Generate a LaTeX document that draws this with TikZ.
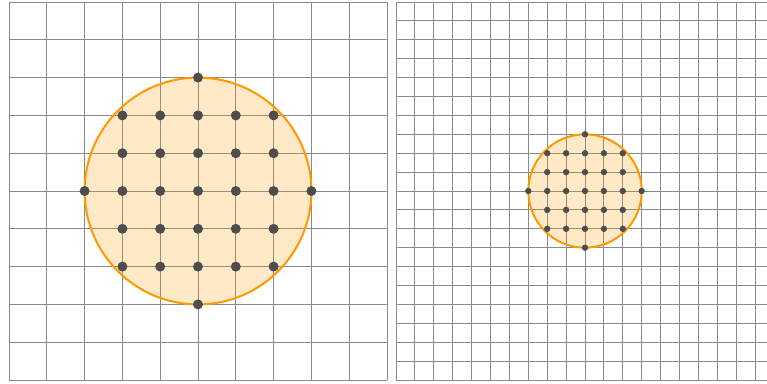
\documentclass[tikz,border=0pt]{standalone}
\definecolor{gridgray}{HTML}{8A8A8A}
\definecolor{ringorange}{HTML}{FF9900}
\definecolor{dotgray}{HTML}{4D4D4D}
\begin{document}
\begin{tikzpicture}[x=1pt,y=-1pt,
  gridline/.style={draw=gridgray,line width=0.9pt},
  disc/.style={fill=ringorange,fill opacity=0.22},
  ring/.style={draw=ringorange,line width=2pt},
  latdot/.style={fill=dotgray}]
\useasboundingbox (0,0) rectangle (767,383);
\clip (0,0) rectangle (767,383);
% left panel
\foreach \i in {0,...,10} {
  \draw[gridline] (9+37.8*\i,2) -- (9+37.8*\i,380);
  \draw[gridline] (9,2+37.8*\i) -- (387,2+37.8*\i);
}
\fill[disc] (198,191) circle[radius=113.4pt];
\draw[ring] (198,191) circle[radius=113.4pt];
\foreach \a in {-2,...,2} \foreach \b in {-2,...,2}
  \fill[latdot] (198+37.8*\a,191+37.8*\b) circle[radius=5pt];
\foreach \p in {(198,77.6),(198,304.4),(84.6,191),(311.4,191)}
  \fill[latdot] \p circle[radius=5pt];
% right panel
\foreach \i in {0,...,20} {
  \draw[gridline] (396+18.9*\i,2) -- (396+18.9*\i,380);
  \draw[gridline] (396,2+18.9*\i) -- (774,2+18.9*\i);
}
\fill[disc] (585,191) circle[radius=56.7pt];
\draw[ring] (585,191) circle[radius=56.7pt];
\foreach \a in {-2,...,2} \foreach \b in {-2,...,2}
  \fill[latdot] (585+18.9*\a,191+18.9*\b) circle[radius=3.2pt];
\foreach \p in {(585,134.3),(585,247.7),(528.3,191),(641.7,191)}
  \fill[latdot] \p circle[radius=3.2pt];
\end{tikzpicture}
\end{document}
